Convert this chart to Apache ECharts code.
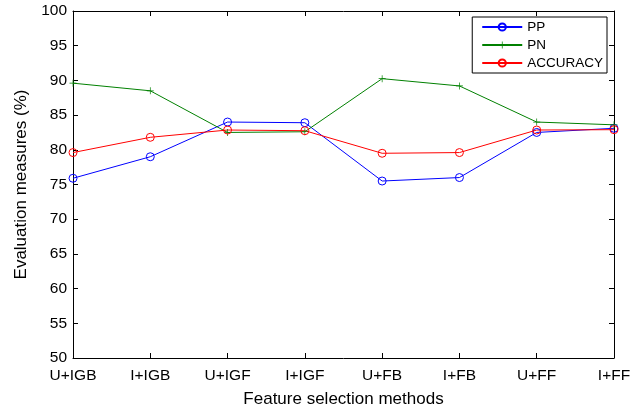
<!DOCTYPE html>
<html><head><meta charset="utf-8">
<script src="https://cdn.jsdelivr.net/npm/echarts@6/dist/echarts.min.js"></script>
<style>html,body{margin:0;padding:0;background:#fff}#c{width:644px;height:413px}</style>
</head><body><div id="c"></div>
<script>
var categories = ['U+IGB','I+IGB','U+IGF','I+IGF','U+FB','I+FB','U+FF','I+FF'];
var ppValues = [75.9, 79.0, 84.0, 83.9, 75.5, 76.0, 82.5, 83.1];
var pnValues = [89.6, 88.5, 82.5, 82.6, 90.25, 89.2, 84.0, 83.6];
var accValues = [79.6, 81.8, 82.85, 82.75, 79.5, 79.6, 82.85, 82.9];
var yTicks = [50,55,60,65,70,75,80,85,90,95,100];

var font = 'Liberation Sans, Arial, sans-serif';
var plus = 'path://M-0.1,-1L0.1,-1L0.1,-0.1L1,-0.1L1,0.1L0.1,0.1L0.1,1L-0.1,1L-0.1,0.1L-1,0.1L-1,-0.1L-0.1,-0.1Z';
var chart = echarts.init(document.getElementById('c'));
var axisLine = {show:true, lineStyle:{color:'#000', width:1}};
var tick = {show:true, inside:true, length:5, lineStyle:{color:'#000'}};
chart.setOption({
  animation:false,
  grid:{left:73, right:30, top:11, bottom:55},
  legend:{
    top:17, right:37, orient:'vertical', itemWidth:40, itemHeight:9, itemGap:4,
    padding:[3,4,3,9],
    borderColor:'#000', borderWidth:1, backgroundColor:'#fff',
    textStyle:{fontFamily:font, fontSize:13.5, color:'#000'},
    data:['PP','PN','ACCURACY']
  },
  xAxis:[{
    type:'category', data:categories, boundaryGap:false,
    name:'Feature selection methods', nameLocation:'middle', nameGap:33,
    nameTextStyle:{fontFamily:font, fontSize:17, color:'#000'},
    axisLine:axisLine, axisTick:tick,
    axisLabel:{fontFamily:font, fontSize:15.5, color:'#000', margin:10},
    splitLine:{show:false}
  },{
    type:'category', data:categories, boundaryGap:false, position:'top',
    axisLine:axisLine, axisTick:tick, axisLabel:{show:false}, splitLine:{show:false}
  }],
  yAxis:[{
    type:'value', min:50, max:100, interval:5,
    name:'Evaluation measures (%)', nameLocation:'middle', nameGap:40,
    nameTextStyle:{fontFamily:font, fontSize:17, color:'#000'},
    axisLine:axisLine, axisTick:tick,
    axisLabel:{fontFamily:font, fontSize:15.5, color:'#000', margin:6,
      formatter:function(v){return yTicks.indexOf(v)>=0 ? String(v) : '';}},
    splitLine:{show:false}
  },{
    type:'value', min:50, max:100, interval:5, position:'right',
    axisLine:axisLine, axisTick:tick, axisLabel:{show:false}, splitLine:{show:false}
  }],
  series:[
    {name:'PP', type:'line', data:ppValues, symbol:'circle', symbolSize:8,
     lineStyle:{color:'#0000ff', width:1},
     itemStyle:{color:'rgba(0,0,0,0)', borderColor:'#0000ff', borderWidth:1}},
    {name:'PN', type:'line', data:pnValues, symbol:plus, symbolSize:7,
     lineStyle:{color:'#008000', width:1}, itemStyle:{color:'#008000'}},
    {name:'ACCURACY', type:'line', data:accValues, symbol:'circle', symbolSize:8,
     lineStyle:{color:'#ff0000', width:1},
     itemStyle:{color:'rgba(0,0,0,0)', borderColor:'#ff0000', borderWidth:1}}
  ]
});
</script></body></html>
